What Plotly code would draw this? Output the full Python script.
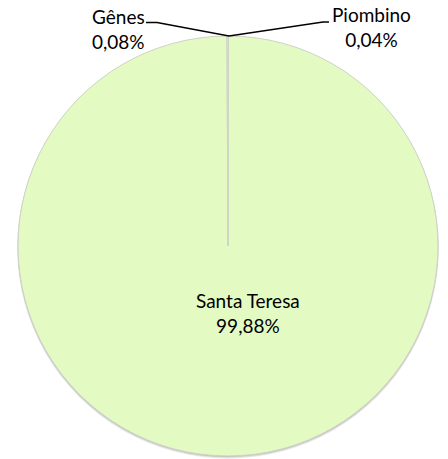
import plotly.graph_objects as go

# ---- data ----
labels = ["Piombino", "Santa Teresa", "Gênes"]
percent_values = [0.04, 99.88, 0.08]

# ---- layout constants (pixels) ----
W, H = 448, 459
CX, CY, R = 228, 246, 210
FONT = "Lato"
FS = 19
FILL = "#e3fbc2"

def px_x(x):
    return x / W

def px_y(y):
    return 1 - y / H

def fmt(v):
    return f"{v:.2f}".replace(".", ",") + "%"

dom_x = [px_x(CX - R), px_x(CX + R)]
dom_y = [px_y(CY + R), px_y(CY - R)]

fig = go.Figure()

# soft shadow
for off, alpha in [(3, 0.10), (2, 0.14), (1, 0.18)]:
    fig.add_trace(go.Pie(
        labels=labels, values=percent_values, sort=False, direction="clockwise",
        rotation=0, textinfo="none", hoverinfo="skip", showlegend=False,
        marker=dict(colors=[f"rgba(90,90,90,{alpha})"] * 3, line=dict(width=0)),
        domain=dict(x=[px_x(CX - R - off * 0.3), px_x(CX + R + off * 0.3)],
                    y=[px_y(CY + R + off), px_y(CY - R + off * 0.2)]),
    ))

fig.add_trace(go.Pie(
    labels=labels, values=percent_values, sort=False, direction="clockwise",
    rotation=0, textinfo="none", showlegend=False,
    marker=dict(colors=[FILL] * 3, line=dict(color="#cfd3c8", width=1)),
    domain=dict(x=dom_x, y=dom_y),
))

font = dict(family=FONT, size=FS, color="#000000")
pos = {
    "Gênes": dict(x=90, y=29, xanchor="left", align="left"),
    "Piombino": dict(x=371, y=27, xanchor="center", align="center"),
    "Santa Teresa": dict(x=248, y=313, xanchor="center", align="center"),
}
for lab, val in zip(labels, percent_values):
    p = pos[lab]
    fig.add_annotation(
        text=f"{lab}<br>{fmt(val)}", x=px_x(p["x"]), y=px_y(p["y"]),
        xref="paper", yref="paper", xanchor=p["xanchor"], yanchor="middle",
        align=p["align"], showarrow=False, font=font,
    )

# leader lines to the top of the pie
top = (CX + 1, CY - R)
lines = [
    [(146, 22.5), (157, 22.5), top],
    [top, (323, 22), (329, 22)],
]
for pts in lines:
    path = "M " + " L ".join(f"{px_x(x)},{px_y(y)}" for x, y in pts)
    fig.add_shape(type="path", path=path, xref="paper", yref="paper",
                  line=dict(color="#000000", width=1.3))

fig.update_layout(
    width=W, height=H, margin=dict(l=0, r=0, t=0, b=0),
    paper_bgcolor="white", plot_bgcolor="white",
    separators=", ",
)

fig.write_html("out.html", config={"displayModeBar": False},
               post_script="document.body.style.margin='0';")
